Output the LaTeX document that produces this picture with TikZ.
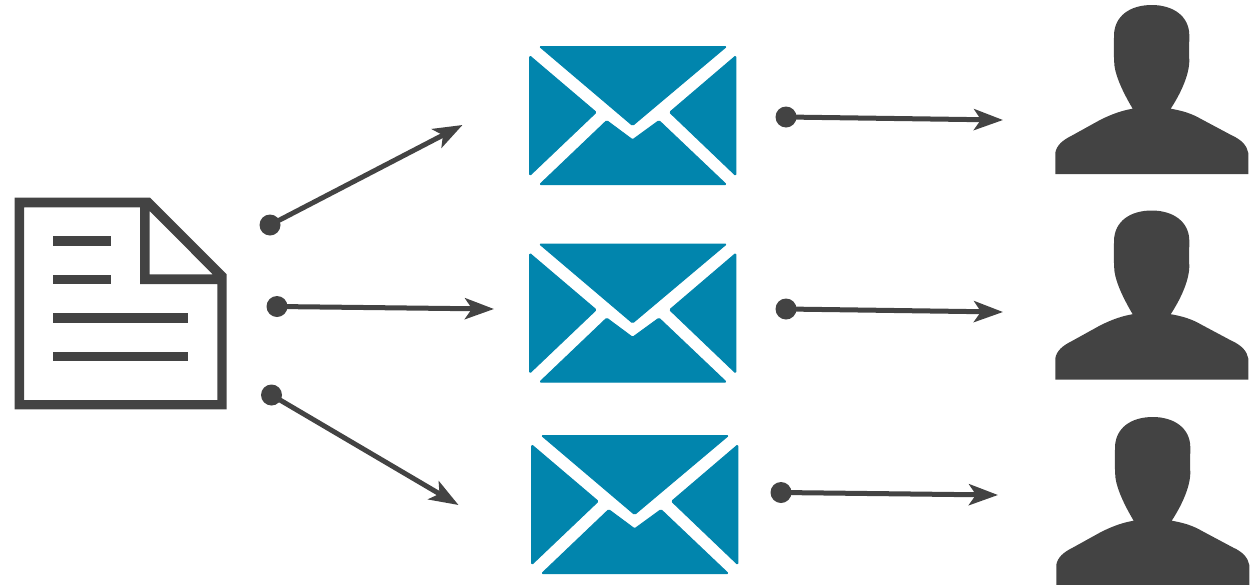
\documentclass[tikz,border=0pt]{standalone}
\usetikzlibrary{arrows.meta}
\definecolor{ink}{HTML}{434343}
\definecolor{mailblue}{HTML}{0185AD}
\tikzset{
  x=1pt,y=-1pt,
  dotnode/.style={circle,fill=ink,inner sep=0pt,minimum size=21pt},
  link/.style={draw=ink,line width=5pt,-{Stealth[length=29pt,width=21pt,inset=7pt]}},
  mailpart/.style={fill=mailblue,draw=mailblue,line width=1pt,line join=round,rounded corners=1.2pt},
  envelope/.pic={
    \path[mailpart] (539.5,46.5) -- (726.5,46.5) -- (632.6,125.5) -- cycle;
    \path[mailpart] (529.7,55.8) -- (596.2,112.3) -- (529.7,175.6) -- cycle;
    \path[mailpart] (735.8,55.8) -- (669.6,112.3) -- (735.8,175.6) -- cycle;
    \path[mailpart] (539.6,184.6) -- (606.7,120.6) -- (632.6,139.8) -- (659,120.6) -- (726.4,184.6) -- cycle;
  },
  person/.pic={
    \fill[ink] (1055.3,174) -- (1055.3,153)
      .. controls (1056.5,145) and (1063,140) .. (1072,135.5)
      -- (1100,120)
      .. controls (1112,114) and (1122,110.5) .. (1132.7,108.7)
      .. controls (1125,96) and (1116,78) .. (1114.5,66)
      .. controls (1113.5,55) and (1114,45) .. (1114,35)
      .. controls (1114.5,16) and (1130,5) .. (1151.7,5)
      .. controls (1173,5) and (1189,16) .. (1189.3,35)
      .. controls (1189.5,42) and (1188.5,50) .. (1189.3,60)
      .. controls (1189.5,76) and (1179,96) .. (1170.7,108.7)
      .. controls (1181,110.5) and (1191,113) .. (1202,119.5)
      -- (1232,135.5)
      .. controls (1242,140) and (1247,146) .. (1248.3,153)
      -- (1248.3,174) -- cycle;
  },
  docbar/.style={fill=ink},
}
\begin{document}
\begin{tikzpicture}
\useasboundingbox (0,0) rectangle (1250,584);
% document
\fill[ink,even odd rule]
  (14.7,197.7) -- (150,197.7) -- (226.7,274.3) -- (226.7,409.3) -- (14.7,409.3) -- cycle
  (24,207.3) -- (140,207.3) -- (140,284) -- (217.3,284) -- (217.3,400) -- (24,400) -- cycle
  (149.7,211) -- (149.7,274.3) -- (212.7,274.3) -- cycle;
\fill[docbar] (53,236) rectangle (111,246);
\fill[docbar] (53,274.7) rectangle (111,284.3);
\fill[docbar] (53,313.3) rectangle (188.3,322.7);
\fill[docbar] (53,352) rectangle (188.3,361.3);
% envelopes
\pic at (0,0) {envelope};
\pic at (0,197.5) {envelope};
\pic at (2,389) {envelope};
% people
\pic at (0,0) {person};
\pic at (0,205.5) {person};
\pic at (1,412) {person};
% connectors
\node[dotnode] (d1) at (270,225) {};
\node[dotnode] (d2) at (277,306.5) {};
\node[dotnode] (d3) at (271.5,395) {};
\node[dotnode] (e1) at (786,117) {};
\node[dotnode] (e2) at (786,309) {};
\node[dotnode] (e3) at (781,492.5) {};
\coordinate (t1) at (462.5,125);
\coordinate (t2) at (494,309);
\coordinate (t3) at (458.5,505);
\coordinate (u1) at (1003,120);
\coordinate (u2) at (1003,312);
\coordinate (u3) at (998,495);
\draw[link] (d1.center) -- (t1);
\draw[link] (d2.center) -- (t2);
\draw[link] (d3.center) -- (t3);
\draw[link] (e1.center) -- (u1);
\draw[link] (e2.center) -- (u2);
\draw[link] (e3.center) -- (u3);
\end{tikzpicture}
\end{document}
